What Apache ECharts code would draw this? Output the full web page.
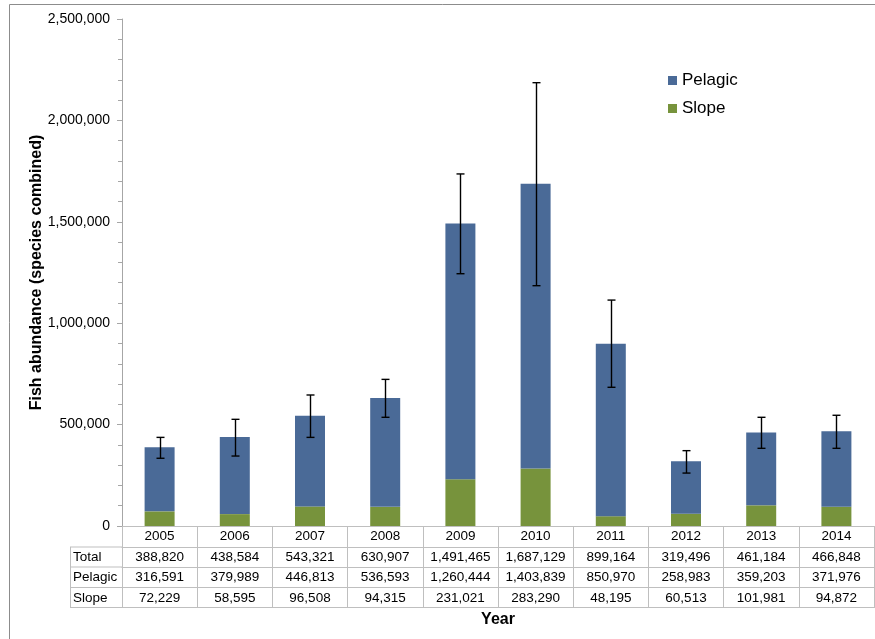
<!DOCTYPE html>
<html>
<head>
<meta charset="utf-8">
<script src="https://cdn.jsdelivr.net/npm/echarts@6/dist/echarts.min.js"></script>
<style>
html,body{margin:0;padding:0;background:#fff;}
#chart{width:875px;height:639px;}
</style>
</head>
<body>
<div id="chart"></div>
<script>
const years = ['2005','2006','2007','2008','2009','2010','2011','2012','2013','2014'];
const total = [388820, 438584, 543321, 630907, 1491465, 1687129, 899164, 319496, 461184, 466848];
const pelagic = [316591, 379989, 446813, 536593, 1260444, 1403839, 850970, 258983, 359203, 371976];
const slope = [72229, 58595, 96508, 94315, 231021, 283290, 48195, 60513, 101981, 94872];
const errLow = [334000, 345000, 437000, 536000, 1244000, 1185000, 684000, 261000, 383000, 383000];
const errHigh = [437000, 526000, 646000, 723000, 1736000, 2186000, 1114000, 371500, 536000, 546000];
const yTicks = [0, 500000, 1000000, 1500000, 2000000, 2500000];

const fmt = v => v.toLocaleString('en-US');
const FONT = 'Liberation Sans, Arial, sans-serif';
const LINE = '#bfbfbf';
const TFS = 13.5;

const chart = echarts.init(document.getElementById('chart'), null, {renderer: 'canvas'});

const tableAxis = (labels, offset, extra) => Object.assign({
  type: 'category', data: labels, position: 'bottom', offset: offset,
  axisLine: {show: true, lineStyle: {color: LINE, width: 1}},
  axisTick: {show: false},
  axisLabel: {show: true, interval: 0, margin: 3.5, fontSize: TFS, color: '#000', fontFamily: FONT},
  splitLine: {show: false}
}, extra || {});

const errData = years.map((y, i) => [i, errLow[i], errHigh[i]]);

chart.setOption({
  animation: false,
  backgroundColor: '#fff',
  textStyle: {fontFamily: FONT},
  grid: {left: 122, right: 1, top: 19, bottom: 113, containLabel: false},
  legend: {
    data: ['Pelagic', 'Slope'], orient: 'vertical', left: 663, top: 67,
    itemWidth: 9, itemHeight: 9, itemGap: 11, icon: 'rect',
    textStyle: {fontSize: 17, color: '#000', fontFamily: FONT}
  },
  xAxis: [
    tableAxis(years, 0, {
      axisTick: {show: true, interval: 0, length: 82, lineStyle: {color: LINE}},
      axisLabel: {show: true, interval: 0, margin: 3.5, fontSize: TFS, color: '#000', fontFamily: FONT}
    }),
    tableAxis(total.map(fmt), 21),
    tableAxis(pelagic.map(fmt), 41),
    tableAxis(slope.map(fmt), 61.5),
    tableAxis(years, 81.5, {
      axisLabel: {show: false},
      name: 'Year', nameLocation: 'middle', nameGap: 4,
      nameTextStyle: {fontSize: 16, fontWeight: 'bold', color: '#000', fontFamily: FONT, verticalAlign: 'top'}
    })
  ],
  yAxis: {
    type: 'value', min: 0, max: 2500000, interval: 500000,
    name: 'Fish abundance (species combined)', nameLocation: 'middle', nameGap: 77,
    nameMoveOverlap: false,
    nameTextStyle: {fontSize: 16, fontWeight: 'bold', color: '#000', fontFamily: FONT},
    axisLine: {show: true, lineStyle: {color: '#a6a6a6'}},
    axisTick: {show: true, length: 5, lineStyle: {color: '#a6a6a6'}},
    minorTick: {show: true, splitNumber: 5, length: 4, lineStyle: {color: '#a6a6a6'}},
    splitLine: {show: false},
    axisLabel: {fontSize: 14, color: '#000', margin: 12, fontFamily: FONT,
      formatter: v => yTicks.includes(v) ? fmt(v) : ''}
  },
  series: [
    {name: 'Slope', type: 'bar', stack: 'a', data: slope, barWidth: 30,
     itemStyle: {color: '#77933C'}, xAxisIndex: 0},
    {name: 'Pelagic', type: 'bar', stack: 'a', data: pelagic, barWidth: 30,
     itemStyle: {color: '#4A6A97'}, xAxisIndex: 0},
    {name: 'err', type: 'custom', xAxisIndex: 0, data: errData, z: 10,
     renderItem: (params, api) => {
       const x = api.value(0);
       const lo = api.coord([x, api.value(1)]);
       const hi = api.coord([x, api.value(2)]);
       const cx = Math.round(lo[0]) + 0.5;
       const st = {stroke: '#000', lineWidth: 1.4};
       return {type: 'group', children: [
         {type: 'line', shape: {x1: cx, y1: hi[1], x2: cx, y2: lo[1]}, style: st},
         {type: 'line', shape: {x1: cx - 4, y1: hi[1], x2: cx + 4, y2: hi[1]}, style: st},
         {type: 'line', shape: {x1: cx - 4, y1: lo[1], x2: cx + 4, y2: lo[1]}, style: st}
       ]};
     }}
  ],
  graphic: [
    {type: 'rect', shape: {x: 9.5, y: 4.5, width: 1000, height: 1000},
     style: {fill: null, stroke: '#8c8c8c', lineWidth: 1}, z: -10, silent: true},
    {type: 'line', shape: {x1: 70, y1: 547, x2: 122, y2: 547}, style: {stroke: LINE}},
    {type: 'line', shape: {x1: 70, y1: 567, x2: 122, y2: 567}, style: {stroke: LINE}},
    {type: 'line', shape: {x1: 70, y1: 587.5, x2: 122, y2: 587.5}, style: {stroke: LINE}},
    {type: 'line', shape: {x1: 70, y1: 607.5, x2: 122, y2: 607.5}, style: {stroke: LINE}},
    {type: 'line', shape: {x1: 70.5, y1: 547, x2: 70.5, y2: 607.5}, style: {stroke: LINE}},
    {type: 'text', left: 73, top: 550.5, style: {text: 'Total', fill: '#000', font: '13.5px Liberation Sans'}},
    {type: 'text', left: 73, top: 570.5, style: {text: 'Pelagic', fill: '#000', font: '13.5px Liberation Sans'}},
    {type: 'text', left: 73, top: 591, style: {text: 'Slope', fill: '#000', font: '13.5px Liberation Sans'}}
  ]
});
</script>
</body>
</html>
